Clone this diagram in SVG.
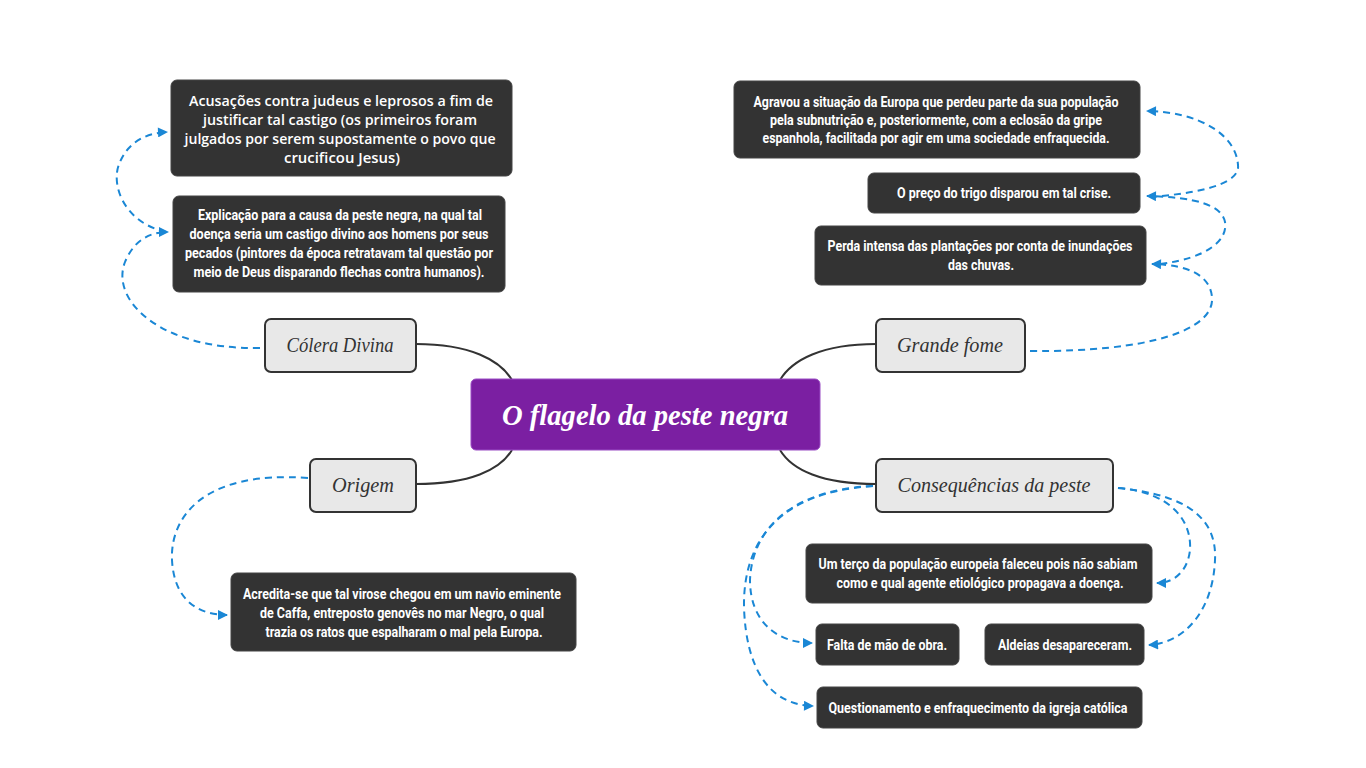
<svg xmlns="http://www.w3.org/2000/svg" width="1366" height="768" viewBox="0 0 1366 768">
<style>
.bg{fill:#ffffff}
.center rect{fill:#7b1fa2;stroke:#9a4cc4;stroke-width:1}
.center text{font-family:"Liberation Serif",serif;font-style:italic;font-weight:bold;font-size:29px;fill:#ffffff;text-anchor:middle}
.branch rect{fill:#e8e8e8;stroke:#333333;stroke-width:2}
.branch text{font-family:"Liberation Serif",serif;font-style:italic;font-size:21px;fill:#333333;text-anchor:middle}
.leaf rect{fill:#333333;stroke:#444444;stroke-width:1}
.leaf text{font-family:Roboto,"Liberation Sans",sans-serif;font-weight:bold;font-size:14px;fill:#ffffff;text-anchor:middle}
.leaf text.wide{font-family:"Open Sans","Noto Sans",sans-serif;font-weight:600;font-size:14px}
.tree path{fill:none;stroke:#333333;stroke-width:2}
.rel path{fill:none;stroke:#1a87d5;stroke-width:2;stroke-dasharray:7 5;marker-end:url(#arr)}
</style>
<defs>
<marker id="arr" viewBox="0 0 10 10" refX="9" refY="5" markerWidth="11" markerHeight="10" markerUnits="userSpaceOnUse" orient="auto">
<path d="M0,0 L10,5 L0,10 z" fill="#1a87d5"/>
</marker>
</defs>
<rect class="bg" x="0" y="0" width="1366" height="768"/>

<g id="connectors">
<g class="tree">
<path d="M416,344 C470,344 500,360 512,380"/>
<path d="M416,484 C470,484 500,470 512,450"/>
<path d="M876,344 C822,344 792,360 780,380"/>
<path d="M876,484 C822,484 792,470 780,450"/>
</g>
<g class="rel">
<path d="M260,348 C160,350 110,300 125,262 C132,245 145,232 168,232"/>
<path d="M166,232 C122,222 110,182 120,162 C128,143 145,133 167,132"/>
<path d="M308,478 C200,470 170,520 172,560 C174,600 198,615 227,615"/>
<path d="M1030,351 C1150,352 1215,330 1212,297 C1210,276 1190,265 1152,264"/>
<path d="M1160,264 C1208,258 1228,240 1225,222 C1222,205 1195,197 1147,196"/>
<path d="M1150,197 C1215,192 1240,180 1238,165 C1236,135 1200,112 1147,111"/>
<path d="M873,486 C790,490 752,530 750,580 C750,620 775,643 812,643"/>
<path d="M873,486 C780,492 743,540 744,607 C746,670 770,705 813,706"/>
<path d="M1118,488 C1170,492 1192,520 1190,550 C1188,570 1175,583 1157,583"/>
<path d="M1118,488 C1190,495 1217,520 1215,560 C1213,610 1185,643 1149,645"/>
</g>
</g>

<g id="central" class="center">
<rect x="471" y="379" width="349" height="71" rx="5"/>
<text x="645" y="425" textLength="286" lengthAdjust="spacingAndGlyphs">O flagelo da peste negra</text>
</g>

<g id="colera" class="branch">
<rect x="265" y="319" width="151" height="53" rx="6"/>
<text x="340" y="352" textLength="107" lengthAdjust="spacingAndGlyphs">Cólera Divina</text>
</g>
<g id="origem" class="branch">
<rect x="310" y="459" width="106" height="53" rx="6"/>
<text x="363" y="492" textLength="62" lengthAdjust="spacingAndGlyphs">Origem</text>
</g>
<g id="fome" class="branch">
<rect x="876" y="319" width="149" height="53" rx="6"/>
<text x="950" y="352" textLength="106" lengthAdjust="spacingAndGlyphs">Grande fome</text>
</g>
<g id="consequencias" class="branch">
<rect x="876" y="459" width="237" height="53" rx="6"/>
<text x="994" y="492" textLength="193" lengthAdjust="spacingAndGlyphs">Consequências da peste</text>
</g>

<g id="acusacoes" class="leaf">
<rect x="171" y="80" width="341" height="96" rx="6"/>
<text class="wide" x="341" y="106" textLength="304" lengthAdjust="spacingAndGlyphs">Acusações contra judeus e leprosos a fim de</text>
<text class="wide" x="340" y="125" textLength="274" lengthAdjust="spacingAndGlyphs">justificar tal castigo (os primeiros foram</text>
<text class="wide" x="340" y="144" textLength="311" lengthAdjust="spacingAndGlyphs">julgados por serem supostamente o povo que</text>
<text class="wide" x="342" y="163" textLength="116" lengthAdjust="spacingAndGlyphs">crucificou Jesus)</text>
</g>

<g id="explicacao" class="leaf">
<rect x="173" y="196" width="332" height="96" rx="6"/>
<text x="340" y="220" textLength="284" lengthAdjust="spacingAndGlyphs">Explicação para a causa da peste negra, na qual tal</text>
<text x="339" y="239" textLength="299" lengthAdjust="spacingAndGlyphs">doença seria um castigo divino aos homens por seus</text>
<text x="339" y="258" textLength="308" lengthAdjust="spacingAndGlyphs">pecados (pintores da época retratavam tal questão por</text>
<text x="339" y="277" textLength="291" lengthAdjust="spacingAndGlyphs">meio de Deus disparando flechas contra humanos).</text>
</g>

<g id="acredita" class="leaf">
<rect x="231" y="573" width="345" height="78" rx="6"/>
<text x="402" y="599" textLength="318" lengthAdjust="spacingAndGlyphs">Acredita-se que tal virose chegou em um navio eminente</text>
<text x="402" y="618" textLength="284" lengthAdjust="spacingAndGlyphs">de Caffa, entreposto genovês no mar Negro, o qual</text>
<text x="404" y="637" textLength="277" lengthAdjust="spacingAndGlyphs">trazia os ratos que espalharam o mal pela Europa.</text>
</g>

<g id="agravou" class="leaf">
<rect x="734" y="81" width="406" height="77" rx="6"/>
<text x="936" y="107" textLength="365" lengthAdjust="spacingAndGlyphs">Agravou a situação da Europa que perdeu parte da sua população</text>
<text x="936" y="125" textLength="332" lengthAdjust="spacingAndGlyphs">pela subnutrição e, posteriormente, com a eclosão da gripe</text>
<text x="936" y="143" textLength="347" lengthAdjust="spacingAndGlyphs">espanhola, facilitada por agir em uma sociedade enfraquecida.</text>
</g>

<g id="preco" class="leaf">
<rect x="868" y="173" width="272" height="40" rx="6"/>
<text x="1004" y="198" textLength="214" lengthAdjust="spacingAndGlyphs">O preço do trigo disparou em tal crise.</text>
</g>

<g id="perda" class="leaf">
<rect x="815" y="226" width="331" height="59" rx="6"/>
<text x="980" y="251" textLength="305" lengthAdjust="spacingAndGlyphs">Perda intensa das plantações por conta de inundações</text>
<text x="981" y="270" textLength="66" lengthAdjust="spacingAndGlyphs">das chuvas.</text>
</g>

<g id="umterco" class="leaf">
<rect x="806" y="544" width="346" height="59" rx="6"/>
<text x="978" y="569" textLength="319" lengthAdjust="spacingAndGlyphs">Um terço da população europeia faleceu pois não sabiam</text>
<text x="980" y="588" textLength="287" lengthAdjust="spacingAndGlyphs">como e qual agente etiológico propagava a doença.</text>
</g>

<g id="falta" class="leaf">
<rect x="816" y="624" width="143" height="41" rx="6"/>
<text x="887" y="650" textLength="120" lengthAdjust="spacingAndGlyphs">Falta de mão de obra.</text>
</g>

<g id="aldeias" class="leaf">
<rect x="985" y="624" width="159" height="41" rx="6"/>
<text x="1065" y="650" textLength="134" lengthAdjust="spacingAndGlyphs">Aldeias desapareceram.</text>
</g>

<g id="questionamento" class="leaf">
<rect x="817" y="687" width="325" height="41" rx="6"/>
<text x="978" y="713" textLength="299" lengthAdjust="spacingAndGlyphs">Questionamento e enfraquecimento da igreja católica</text>
</g>
</svg>
